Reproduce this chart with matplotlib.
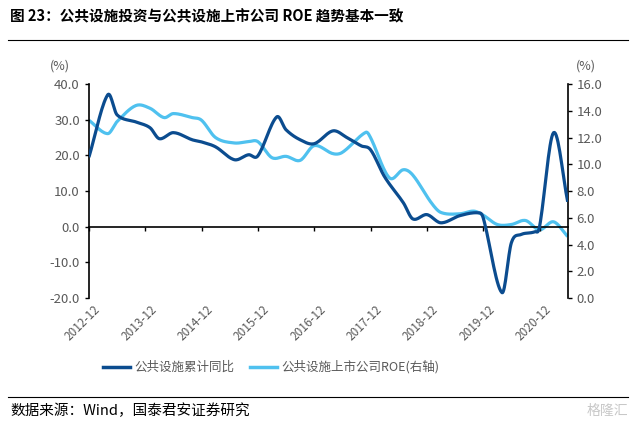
import numpy as np
import pandas as pd
import matplotlib
matplotlib.use('Agg')
import matplotlib.pyplot as plt
import matplotlib.transforms as mtransforms

plt.rcParams['font.family'] = ['Noto Sans CJK SC', 'DejaVu Sans']

# 公共设施累计同比 (left axis, %)
invest_dates = ['2012-12', '2013-04', '2013-06', '2013-10', '2014-01', '2014-03', '2014-06',
                '2014-10', '2014-12', '2015-03', '2015-07', '2015-10', '2015-12', '2016-04',
                '2016-06', '2016-09', '2016-12', '2017-04', '2017-07', '2017-10', '2017-12',
                '2018-03', '2018-07', '2018-09', '2018-12', '2019-03', '2019-07', '2019-11',
                '2019-12', '2020-04', '2020-06', '2020-08', '2020-11', '2020-12', '2021-03',
                '2021-06']
invest_values = [19.5, 37.0, 31.4, 29.4, 27.8, 24.7, 26.4, 24.4, 23.8, 22.4, 18.8, 20.2, 19.9,
                 30.8, 27.2, 24.4, 23.3, 26.9, 25.0, 22.7, 21.6, 14.0, 6.7, 2.2, 3.4, 1.1, 3.1,
                 3.9, 2.5, -18.5, -4.5, -2.2, -1.4, 0.0, 26.4, 7.0]

# 公共设施上市公司ROE (right axis, %)
roe_dates = ['2012-12', '2013-04', '2013-06', '2013-10', '2014-01', '2014-04', '2014-06',
             '2014-10', '2014-12', '2015-03', '2015-07', '2015-10', '2015-12', '2016-03',
             '2016-06', '2016-09', '2016-12', '2017-04', '2017-06', '2017-11', '2017-12',
             '2018-04', '2018-07', '2018-09', '2019-01', '2019-03', '2019-07', '2019-10',
             '2019-12', '2020-03', '2020-06', '2020-09', '2020-12', '2021-03', '2021-06']
roe_values = [13.3, 12.3, 13.2, 14.4, 14.2, 13.5, 13.8, 13.5, 13.3, 12.0, 11.6, 11.7, 11.7,
              10.5, 10.6, 10.3, 11.4, 10.8, 10.9, 12.4, 12.0, 9.0, 9.6, 9.2, 7.1, 6.4, 6.3,
              6.5, 6.2, 5.5, 5.5, 5.8, 5.1, 5.7, 4.6]

tick_labels = ['2012-12', '2013-12', '2014-12', '2015-12', '2016-12',
               '2017-12', '2018-12', '2019-12', '2020-12']

DARK = '#0b4c8f'
LIGHT = '#4fc1ef'
GREY = '#595959'


def month_index(dates):
    p = pd.PeriodIndex(dates, freq='M')
    base = pd.Period('2012-12', freq='M')
    return np.array([(d - base).n for d in p], dtype=float)


def smooth(x, y, n=16):
    # cubic Hermite through the read points, so the line bends like Excel's smoothed line
    x = np.asarray(x, float)
    y = np.asarray(y, float)
    m = np.zeros_like(y)
    m[1:-1] = (y[2:] - y[:-2]) / (x[2:] - x[:-2])
    m[0] = (y[1] - y[0]) / (x[1] - x[0])
    m[-1] = (y[-1] - y[-2]) / (x[-1] - x[-2])
    xs, ys = [], []
    t = np.linspace(0, 1, n, endpoint=False)
    for i in range(len(x) - 1):
        h = x[i + 1] - x[i]
        h00 = 2 * t ** 3 - 3 * t ** 2 + 1
        h10 = t ** 3 - 2 * t ** 2 + t
        h01 = -2 * t ** 3 + 3 * t ** 2
        h11 = t ** 3 - t ** 2
        xs.extend(x[i] + t * h)
        ys.extend(h00 * y[i] + h10 * h * m[i] + h01 * y[i + 1] + h11 * h * m[i + 1])
    xs.append(x[-1])
    ys.append(y[-1])
    return np.array(xs), np.array(ys)


fig = plt.figure(figsize=(6.35, 4.23), dpi=100)
ax = fig.add_axes([0.140, 0.2955, 0.754, 0.5055])
ax2 = ax.twinx()

xi = month_index(invest_dates)
xr = month_index(roe_dates)
sx, sy = smooth(xr, roe_values)
ax2.plot(sx, sy, color=LIGHT, lw=2.3, solid_capstyle='butt', zorder=2)
sx, sy = smooth(xi, invest_values)
ax.plot(sx, sy, color=DARK, lw=2.3, solid_capstyle='butt', zorder=3)
ax.set_zorder(ax2.get_zorder() + 1)
ax.patch.set_visible(False)

end = max(xi[-1], xr[-1])
ax.set_xlim(0, end)
ax.set_ylim(-20, 40)
ax.set_yticks(np.arange(-20, 41, 10))
ax.set_yticklabels([f'{v:.1f}' for v in np.arange(-20, 41, 10)])
ax2.set_ylim(0, 16)
ax2.set_yticks(np.arange(0, 17, 2))
ax2.set_yticklabels([f'{v:.1f}' for v in np.arange(0, 17, 2)])

xt = np.arange(len(tick_labels)) * 12
ax.set_xticks(xt)
ax.spines['bottom'].set_position(('data', 0))
ax.tick_params(axis='x', direction='out', length=3, width=1, color='black', labelbottom=False)
trans = mtransforms.blended_transform_factory(ax.transData, ax.transAxes)
for x, lab in zip(xt, tick_labels):
    ax.text(x + 1.0, -0.025, lab, transform=trans, rotation=45, ha='right', va='top',
            fontsize=8.5, color=GREY, rotation_mode='anchor')

for a in (ax, ax2):
    a.spines['top'].set_visible(False)
    a.tick_params(axis='y', direction='out', length=3, width=1, colors=GREY, labelsize=9.5)
    a.tick_params(axis='y', color='black')
ax2.spines['bottom'].set_visible(False)
ax.spines['right'].set_visible(False)
ax2.spines['left'].set_visible(False)
ax.spines['left'].set_linewidth(1.2)
ax2.spines['right'].set_linewidth(1.2)
ax.spines['bottom'].set_linewidth(1.2)

fig.text(60 / 635, 1 - 66 / 423, '(%)', fontsize=9, color=GREY, ha='center', va='center')
fig.text(586 / 635, 1 - 66 / 423, '(%)', fontsize=9, color=GREY, ha='center', va='center')

# legend
ly = 1 - 367 / 423
fig.add_artist(plt.Line2D([103 / 635, 130 / 635], [ly, ly], color=DARK, lw=2.5))
fig.text(134 / 635, ly, '公共设施累计同比', fontsize=9, color=GREY, va='center')
fig.add_artist(plt.Line2D([250 / 635, 277 / 635], [ly, ly], color=LIGHT, lw=2.5))
fig.text(281 / 635, ly, '公共设施上市公司ROE(右轴)', fontsize=9, color=GREY, va='center')

# title and source
fig.text(10 / 635, 1 - 16 / 423, '图 23：公共设施投资与公共设施上市公司 ROE 趋势基本一致',
         fontsize=10.5, fontweight='bold', va='center')
fig.add_artist(plt.Line2D([8 / 635, 628 / 635], [1 - 40 / 423, 1 - 40 / 423], color='black', lw=0.8))
fig.add_artist(plt.Line2D([8 / 635, 628 / 635], [1 - 397 / 423, 1 - 397 / 423], color='black', lw=0.8))
fig.text(10 / 635, 1 - 411 / 423, '数据来源：Wind，国泰君安证券研究', fontsize=10.5, va='center')
fig.text(628 / 635, 1 - 411 / 423, '格隆汇', fontsize=10, color='#c8c8c8', ha='right', va='center')

fig.savefig('out.png', dpi=100)
